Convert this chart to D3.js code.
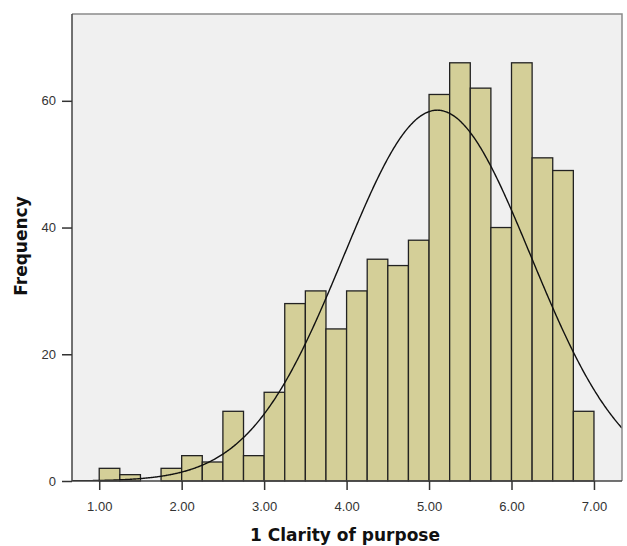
<!DOCTYPE html>
<html>
<head>
<meta charset="utf-8">
<script src="https://cdn.jsdelivr.net/npm/d3@7"></script>
<style>
  body { margin: 0; background: #fff; }
  svg { display: block; }
</style>
</head>
<body>
<div id="container"></div>
<script>
const width = 627, height = 546;

// histogram bins (lower edge, width 0.25) and counts
const binStarts = [1.00, 1.25, 1.50, 1.75, 2.00, 2.25, 2.50, 2.75, 3.00, 3.25, 3.50, 3.75,
                   4.00, 4.25, 4.50, 4.75, 5.00, 5.25, 5.50, 5.75, 6.00, 6.25, 6.50, 6.75];
const counts = [2, 1, 0, 2, 4, 3, 11, 4, 14, 28, 30, 24,
                30, 35, 34, 38, 61, 66, 62, 40, 66, 51, 49, 11];
const binWidth = 0.25;

// fitted normal curve
const mean = 5.10, sd = 1.135;

const xTicks = [1, 2, 3, 4, 5, 6, 7];
const yTicks = [0, 20, 40, 60];

const svg = d3.select("#container").append("svg")
    .attr("width", width).attr("height", height);

const x = d3.scaleLinear().domain([0.67, 7.34]).range([72, 622]);
const y = d3.scaleLinear().domain([0, 73.7]).range([481, 14]);

const [x0, x1] = x.range();
const [y0, y1] = y.range();

// plot background
svg.append("rect")
    .attr("x", x0).attr("y", y1)
    .attr("width", x1 - x0).attr("height", y0 - y1)
    .attr("fill", "#f0f0f0");

svg.append("clipPath").attr("id", "plotclip")
  .append("rect")
    .attr("x", x0).attr("y", y1)
    .attr("width", x1 - x0).attr("height", y0 - y1);

// bars
const bins = binStarts.map((s, i) => ({ x0: s, x1: s + binWidth, n: counts[i] }));
svg.append("g").selectAll("rect")
  .data(bins.filter(d => d.n > 0))
  .join("rect")
    .attr("x", d => x(d.x0))
    .attr("y", d => y(d.n))
    .attr("width", d => x(d.x1) - x(d.x0))
    .attr("height", d => y(0) - y(d.n))
    .attr("fill", "#d4cf98")
    .attr("stroke", "#222")
    .attr("stroke-width", 1.3);

// normal curve
const total = d3.sum(counts);
const peak = total * binWidth / (sd * Math.sqrt(2 * Math.PI));
const curveXs = d3.range(0.67, 7.345, 0.01);
const line = d3.line()
    .x(v => x(v))
    .y(v => y(peak * Math.exp(-0.5 * Math.pow((v - mean) / sd, 2))))
    .curve(d3.curveBasis);
svg.append("path")
    .attr("clip-path", "url(#plotclip)")
    .attr("d", line(curveXs))
    .attr("fill", "none")
    .attr("stroke", "#111")
    .attr("stroke-width", 1.4);

// frame: top and right
svg.append("path")
    .attr("d", `M${x0},${y1}H${x1}V${y0}`)
    .attr("fill", "none")
    .attr("stroke", "#8a8a8a")
    .attr("stroke-width", 1.5);

// axes
const xAxis = svg.append("g")
    .attr("transform", `translate(0,${y0})`)
    .call(d3.axisBottom(x).tickValues(xTicks).tickSize(9).tickPadding(12).tickFormat(d3.format(".2f")));
const yAxis = svg.append("g")
    .attr("transform", `translate(${x0},0)`)
    .call(d3.axisLeft(y).tickValues(yTicks).tickSize(10).tickPadding(6).tickFormat(d3.format("d")));

[xAxis, yAxis].forEach(g => {
  g.select(".domain").attr("stroke", "#444").attr("stroke-width", 1.5);
  g.selectAll(".tick line").attr("stroke", "#333").attr("stroke-width", 1.5);
  g.selectAll(".tick text")
    .attr("fill", "#333")
    .style("font-family", "'Liberation Sans', Arial, sans-serif")
    .style("font-size", "13px");
});
xAxis.select(".domain").attr("d", `M${x0},0H${x1}`);
yAxis.select(".domain").attr("d", `M0,${y1}V${y0}`);

// axis titles
svg.append("text")
    .attr("x", 345).attr("y", 541)
    .attr("text-anchor", "middle")
    .style("font-family", "'DejaVu Sans', sans-serif")
    .style("font-weight", "bold")
    .style("font-size", "17px")
    .attr("fill", "#111")
    .text("1 Clarity of purpose");

svg.append("text")
    .attr("transform", "translate(27,246) rotate(-90)")
    .attr("text-anchor", "middle")
    .style("font-family", "'DejaVu Sans', sans-serif")
    .style("font-weight", "bold")
    .style("font-size", "17px")
    .attr("fill", "#111")
    .text("Frequency");
</script>
</body>
</html>
